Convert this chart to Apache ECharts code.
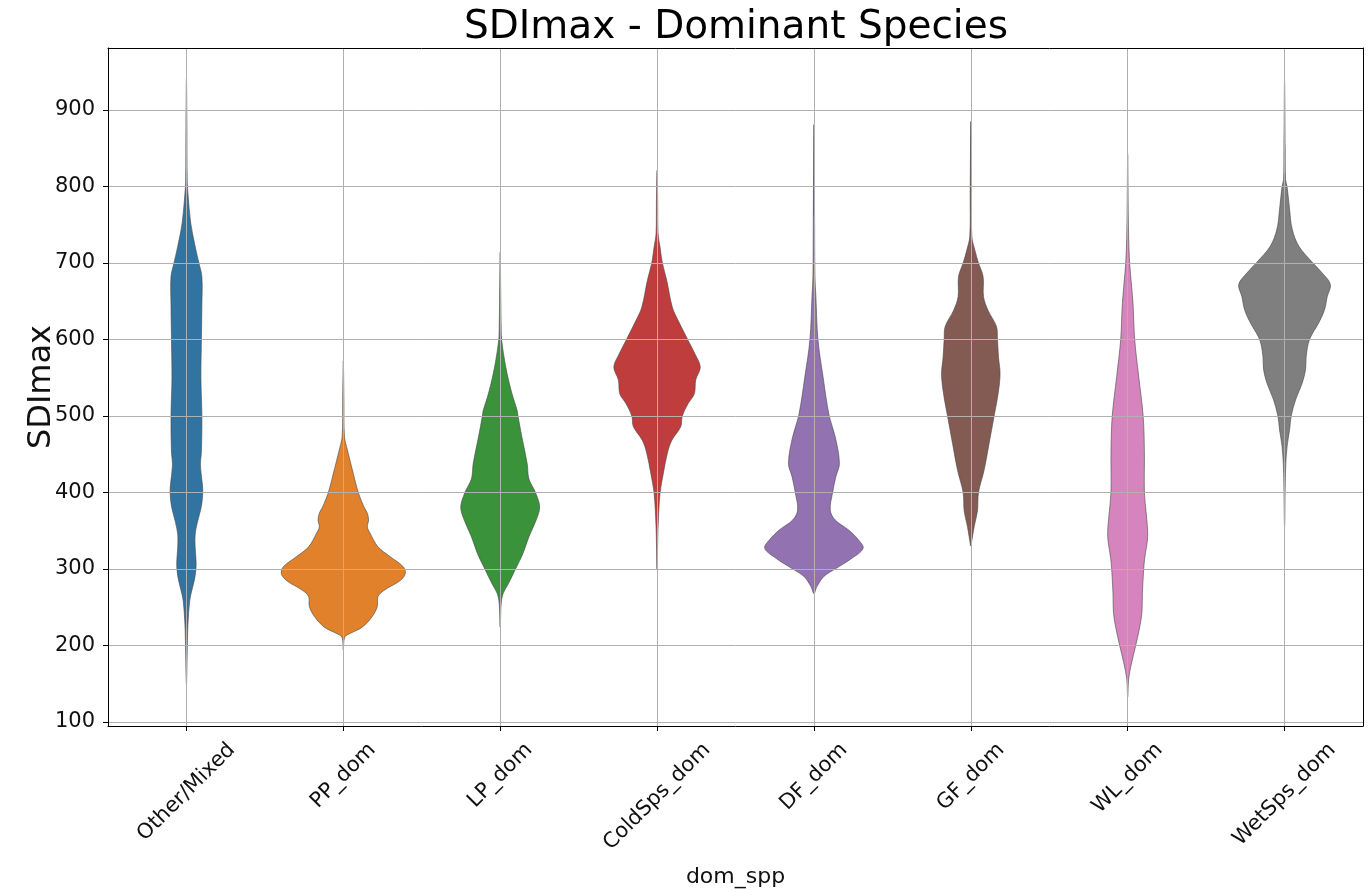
<!DOCTYPE html>
<html>
<head>
<meta charset="utf-8">
<script src="https://cdn.jsdelivr.net/npm/echarts@6.0.0/dist/echarts.min.js"></script>
<style>
  html, body { margin: 0; padding: 0; background: #ffffff; }
  #chart { width: 1370px; height: 893px; }
</style>
</head>
<body>
<div id="chart"></div>
<script>
// ---------------- DATA ----------------
const categories = ['Other/Mixed', 'PP_dom', 'LP_dom', 'ColdSps_dom', 'DF_dom', 'GF_dom', 'WL_dom', 'WetSps_dom'];
const yTicks = [100, 200, 300, 400, 500, 600, 700, 800, 900];
const yMin = 94.8;
const yMax = 981;

// Density profiles: [SDImax value, violin width as fraction of the category band]
const otherMixed = [[941,0],[880,0.006],[806,0.01],[790,0.02],[752,0.055],[720,0.115],[700,0.159],[682,0.197],[645,0.197],[600,0.191],[549,0.185],[500,0.197],[453,0.191],[436,0.178],[410,0.204],[400,0.208],[382,0.191],[361,0.14],[345,0.111],[329,0.111],[307,0.124],[291,0.111],[275,0.076],[259,0.042],[227,0.019],[206,0.013],[149,0]];
const ppDom = [[572,0],[520,0.008],[473,0.015],[456,0.051],[425,0.127],[400,0.191],[381,0.264],[373,0.306],[364,0.322],[355,0.306],[347,0.34],[329,0.442],[316,0.599],[303,0.764],[294,0.79],[285,0.726],[272,0.518],[264,0.442],[251,0.433],[238,0.369],[224,0.242],[216,0.093],[211,0.019],[194,0]];
const lpDom = [[714,0],[650,0.008],[612,0.013],[599,0.019],[568,0.064],[542,0.118],[525,0.162],[507,0.217],[500,0.227],[473,0.276],[438,0.344],[418,0.366],[400,0.45],[381,0.503],[364,0.459],[342,0.366],[320,0.289],[299,0.191],[281,0.106],[268,0.038],[255,0.013],[224,0]];
const coldSpsDom = [[821,0],[780,0.008],[738,0.013],[721,0.038],[700,0.068],[677,0.124],[642,0.195],[625,0.268],[599,0.395],[581,0.484],[564,0.551],[547,0.493],[529,0.475],[516,0.395],[500,0.322],[486,0.302],[468,0.187],[451,0.131],[425,0.08],[399,0.038],[355,0.013],[299,0]];
const dfDom = [[881,0],[760,0.008],[682,0.013],[656,0.025],[600,0.051],[552,0.115],[500,0.195],[473,0.271],[438,0.325],[421,0.28],[400,0.238],[377,0.208],[364,0.271],[351,0.442],[338,0.569],[327,0.627],[314,0.484],[300,0.271],[290,0.124],[277,0.038],[268,0]];
const gfDom = [[885,0],[790,0.008],[735,0.013],[717,0.051],[700,0.098],[682,0.157],[656,0.162],[638,0.22],[617,0.327],[600,0.34],[577,0.353],[555,0.373],[529,0.348],[500,0.297],[464,0.233],[429,0.169],[400,0.098],[376,0.085],[355,0.042],[337,0.013],[330,0]];
const wlDom = [[842,0],[760,0.008],[732,0.013],[700,0.025],[647,0.068],[600,0.089],[552,0.14],[500,0.197],[452,0.213],[400,0.213],[371,0.238],[343,0.255],[314,0.217],[300,0.204],[267,0.187],[244,0.182],[224,0.153],[200,0.102],[176,0.047],[157,0.013],[133,0]];
const wetSpsDom = [[938,0],[850,0.008],[809,0.013],[800,0.032],[770,0.064],[744,0.098],[722,0.182],[701,0.353],[687,0.48],[672,0.584],[656,0.544],[639,0.51],[622,0.437],[600,0.318],[578,0.276],[561,0.268],[543,0.225],[521,0.14],[500,0.085],[482,0.064],[460,0.032],[430,0.013],[355,0]];

const profiles = [otherMixed, ppDom, lpDom, coldSpsDom, dfDom, gfDom, wlDom, wetSpsDom];

// ---------------- STYLE ----------------
const palette = ['#3274a1', '#e1812c', '#3a923a', '#c03d3e', '#9372b2', '#845b53', '#d684bd', '#7f7f7f'];
const FONT = '"DejaVu Sans", "Liberation Sans", sans-serif';
const TICK_FS = 21;
const EDGE = 'rgba(70,70,70,0.75)';
const GRID_COLOR = '#b0b0b0';

const measureCtx = document.createElement('canvas').getContext('2d');
function textWidth(t, fs) {
  measureCtx.font = fs + 'px ' + FONT;
  return measureCtx.measureText(t).width;
}

function renderViolin(params, api) {
  const i = api.value(0);
  const prof = profiles[i];
  const band = api.size([1, 0])[0];
  const n = prof.length;
  const top = api.coord([i, prof[0][0]]);
  const bottom = api.coord([i, prof[n - 1][0]]);
  const right = [], left = [];
  for (let k = 1; k < n - 1; k++) {
    const p = api.coord([i, prof[k][0]]);
    const hw = prof[k][1] * band / 2;
    right.push([p[0] + hw, p[1]]);
    left.push([p[0] - hw, p[1]]);
  }
  const pts = [top].concat(right, [bottom], left.reverse());
  return {
    type: 'polygon',
    shape: { points: pts, smooth: 0.35 },
    style: { fill: palette[i], stroke: EDGE, lineWidth: 0.8 }
  };
}

function renderXLabel(params, api) {
  const i = api.value(0);
  const p = api.coord([i, yMin]);
  const txt = categories[i];
  const L = textWidth(txt, TICK_FS);
  const h = TICK_FS * 1.164;
  const c = Math.SQRT1_2;
  return {
    type: 'text',
    x: p[0],
    y: p[1] + 12 + (L + h) * c / 2,
    rotation: Math.PI / 4,
    style: {
      text: txt,
      font: TICK_FS + 'px ' + FONT,
      fill: '#111',
      align: 'center',
      verticalAlign: 'middle'
    }
  };
}

const chart = echarts.init(document.getElementById('chart'), null, { renderer: 'canvas' });

const frameAxis = (pos) => ({
  type: 'value', position: pos, min: 0, max: 1, z: 10,
  axisLine: { show: true, onZero: false, lineStyle: { color: '#000', width: 1 } },
  axisTick: { show: false }, axisLabel: { show: false }, splitLine: { show: false }
});

chart.setOption({
  backgroundColor: '#ffffff',
  animation: false,
  title: {
    text: 'SDImax - Dominant Species',
    left: 731,
    top: 3,
    textAlign: 'center',
    textStyle: { fontFamily: FONT, fontSize: 39, fontWeight: 'normal', color: '#000' }
  },
  grid: { left: 108, right: 7, top: 48, bottom: 167, show: false },
  xAxis: [
    {
      type: 'category',
      data: categories,
      position: 'bottom',
      boundaryGap: true,
      z: 3,
      name: 'dom_spp',
      nameLocation: 'middle',
      nameGap: 140,
      nameTextStyle: { fontFamily: FONT, fontSize: 22, color: '#111', verticalAlign: 'top' },
      axisLine: { show: false },
      axisTick: { show: true, alignWithLabel: true, interval: 0, length: 5, lineStyle: { color: '#000', width: 1 } },
      axisLabel: { show: false, interval: 0 },
      splitLine: { show: true, alignWithLabel: true, interval: 0, lineStyle: { color: GRID_COLOR, width: 1 } }
    },
    frameAxis('bottom'),
    frameAxis('top')
  ],
  yAxis: [
    {
      type: 'value',
      position: 'left',
      min: yMin,
      max: yMax,
      splitNumber: 9,
      z: 3,
      name: 'SDImax',
      nameLocation: 'middle',
      nameGap: 50,
      nameMoveOverlap: false,
      nameTextStyle: { fontFamily: FONT, fontSize: 32, color: '#111' },
      axisLine: { show: false },
      axisTick: { show: true, customValues: yTicks, length: 5, lineStyle: { color: '#000', width: 1 } },
      axisLabel: { show: true, customValues: yTicks, margin: 13, fontFamily: FONT, fontSize: TICK_FS, color: '#111' },
      splitLine: { show: true, lineStyle: { color: GRID_COLOR, width: 1 } }
    },
    frameAxis('left'),
    frameAxis('right')
  ],
  series: [
    {
      type: 'custom',
      name: 'violins',
      xAxisIndex: 0,
      yAxisIndex: 0,
      z: 2,
      clip: false,
      renderItem: renderViolin,
      encode: { x: 0, y: 1 },
      data: categories.map((c, i) => [i, profiles[i][0][0]])
    },
    {
      type: 'custom',
      name: 'xlabels',
      xAxisIndex: 0,
      yAxisIndex: 0,
      z: 4,
      clip: false,
      silent: true,
      renderItem: renderXLabel,
      encode: { x: 0, y: 1 },
      data: categories.map((c, i) => [i, yMin])
    }
  ]
});
</script>
</body>
</html>
